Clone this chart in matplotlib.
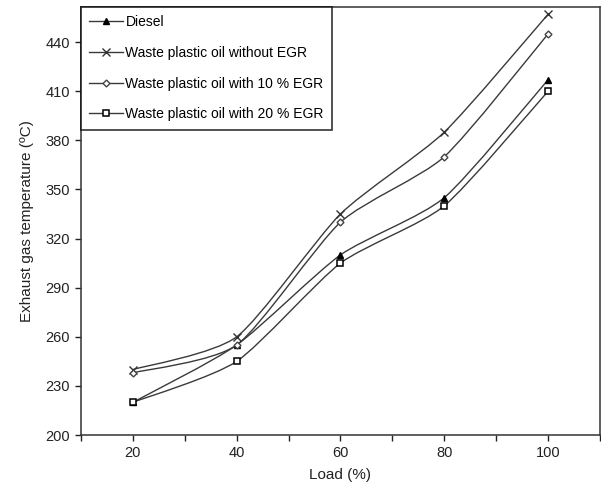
import numpy as np
import matplotlib.pyplot as plt
from matplotlib.path import Path
from matplotlib.patches import PathPatch

plt.rcParams['font.family'] = ['Liberation Sans', 'DejaVu Sans']

load = [20, 40, 60, 80, 100]
diesel = [220, 255, 310, 345, 417]
wpo_no_egr = [240, 260, 335, 385, 457]
wpo_egr10 = [238, 255, 330, 370, 445]
wpo_egr20 = [220, 245, 305, 340, 410]

series = [
    ('Diesel', diesel, dict(marker='^', markersize=4, markerfacecolor='black', markeredgecolor='black')),
    ('Waste plastic oil without EGR', wpo_no_egr, dict(marker='x', markersize=6, markeredgecolor='#333333', markeredgewidth=1)),
    ('Waste plastic oil with 10 % EGR', wpo_egr10, dict(marker='D', markersize=3.5, markerfacecolor='white', markeredgecolor='#444444')),
    ('Waste plastic oil with 20 % EGR', wpo_egr20, dict(marker='s', markersize=5, markerfacecolor='white', markeredgecolor='black', markeredgewidth=1.1)),
]


def smooth_path(x, y, k=9.0):
    # mild bezier smoothing between points, like a smoothed spreadsheet line
    x = np.asarray(x, float)
    y = np.asarray(y, float)
    verts = [(x[0], y[0])]
    codes = [Path.MOVETO]
    n = len(x)
    for i in range(n - 1):
        x0, y0 = (x[i - 1], y[i - 1]) if i > 0 else (x[i], y[i])
        x3, y3 = (x[i + 2], y[i + 2]) if i + 2 < n else (x[i + 1], y[i + 1])
        c1 = (x[i] + (x[i + 1] - x0) / k, y[i] + (y[i + 1] - y0) / k)
        c2 = (x[i + 1] - (x3 - x[i]) / k, y[i + 1] - (y3 - y[i]) / k)
        verts += [c1, c2, (x[i + 1], y[i + 1])]
        codes += [Path.CURVE4] * 3
    return Path(verts, codes)


fig = plt.figure(figsize=(6.01, 4.91), dpi=100)
ax = fig.add_axes([0.1348, 0.114, 0.8635, 0.872])

for label, values, style in series:
    ax.add_patch(PathPatch(smooth_path(load, values), facecolor='none', edgecolor='#3a3a3a', lw=1.0, zorder=2))
    ax.plot(load, values, linestyle='none', zorder=3, **style)
    # legend proxy
    ax.plot([], [], color='#3a3a3a', lw=1.0, label=label, **style)

ax.set_xlim(10, 110)
ax.set_ylim(200, 461.5)
ax.set_xticks(np.arange(10, 111, 10))
ax.set_xticklabels(['' if v % 20 else str(v) for v in range(10, 111, 10)])
ax.set_yticks(np.arange(200, 441, 30))

ax.tick_params(direction='out', length=4, width=1, labelsize=10.5, colors='#222222', pad=4)
for sp in ax.spines.values():
    sp.set_color('#333333')
    sp.set_linewidth(1.1)

ax.set_xlabel('Load (%)', fontsize=11, color='#222222', labelpad=6)
ax.set_ylabel('Exhaust gas temperature (ºC)', fontsize=11, color='#222222', labelpad=8)

leg = ax.legend(loc='upper left', bbox_to_anchor=(0, 1), fontsize=10, frameon=True,
                fancybox=False, edgecolor='black', borderaxespad=0, handlelength=2.4,
                handletextpad=0.2, labelspacing=1.2, borderpad=0.6)
leg.get_frame().set_linewidth(1.2)

fig.savefig('out.png', dpi=100)
